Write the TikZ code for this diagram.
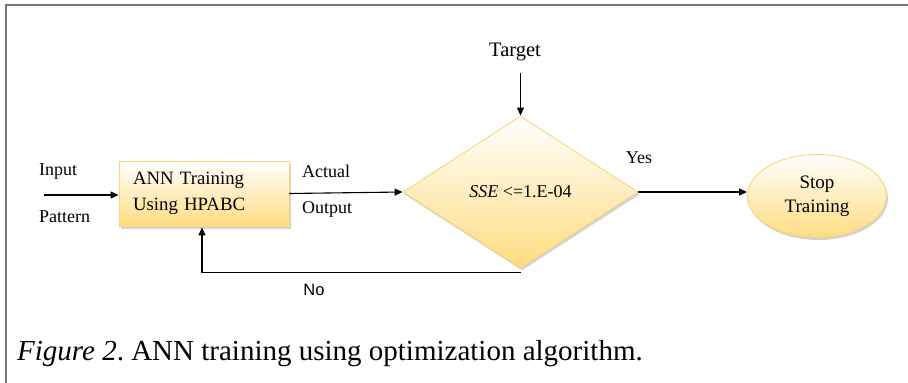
\documentclass[tikz,border=0pt]{standalone}
\usepackage{fontspec}
\setmainfont{Liberation Serif}
\newfontfamily\arialfont{Liberation Sans}
\usetikzlibrary{shapes.geometric,shadows,arrows.meta}
\definecolor{gold}{RGB}{250,214,120}
\definecolor{fillbot}{RGB}{255,220,128}
\definecolor{frame}{RGB}{120,120,120}
\frenchspacing
\tikzset{
  lbl/.style={font=\fontsize{18}{22}\selectfont, inner sep=0pt},
  shapebox/.style={draw=gold, line width=0.9pt, top color=white, bottom color=fillbot,
     drop shadow={opacity=0.35, shadow xshift=1.5pt, shadow yshift=-2.5pt}},
  arr/.style={-{Triangle[length=8pt,width=7pt]}, line width=1.1pt, black}
}
\begin{document}
\begin{tikzpicture}[x=1pt,y=-1pt]
\useasboundingbox (0,0) rectangle (908,383);
\draw[frame, line width=1.4pt] (6,383) -- (6,5) -- (908,5);

\node[shapebox, rectangle, minimum width=170pt, minimum height=65pt, inner sep=0pt,
      text width=142pt, align=left, font=\fontsize{18.8}{26}\selectfont] (box) at (204,193.5)
      {ANN Training\\Using HPABC};
\node[shapebox, diamond, minimum width=235pt, minimum height=152pt, inner sep=0pt,
      font=\fontsize{18}{22}\selectfont] (dia) at (520.5,192)
      {\textit{SSE} <=1.E-04};
\node[shapebox, ellipse, minimum width=139pt, minimum height=83pt, inner sep=0pt,
      align=center, font=\fontsize{19}{24}\selectfont] (ell) at (817,196)
      {Stop\\Training};

\node[lbl, anchor=west] (inp) at (39,172) {Input};
\node[lbl, anchor=west] (pat) at (39,217) {Pattern};
\node[lbl, anchor=west] (act) at (302,171) {Actual};
\node[lbl, anchor=west] (out) at (302,209) {Output};
\node[lbl, font=\fontsize{20.5}{24}\selectfont] (tgt) at (515,52) {Target};
\node[lbl] (yes) at (639,158) {Yes};
\node[inner sep=0pt, font=\arialfont\fontsize{16.5}{20}\selectfont] (no) at (314,290) {No};
\node[inner sep=0pt, anchor=base west, font=\fontsize{29}{34}\selectfont] (cap) at (17,360)
  {\textit{Figure 2}. ANN training using optimization algorithm.};

\coordinate (instart) at (44,195);
\coordinate (tgtstart) at (520.5,73);
\draw[arr] (instart) -- (box.west |- instart);
\draw[arr] (box.east) -- (dia.west);
\draw[arr] (tgtstart) -- (dia.north);
\draw[arr] (dia.east) -- (ell.west |- dia.east);
\draw[arr] ([yshift=-4pt]dia.south) -| ([xshift=-2pt,yshift=-1pt]box.south);
\end{tikzpicture}
\end{document}
